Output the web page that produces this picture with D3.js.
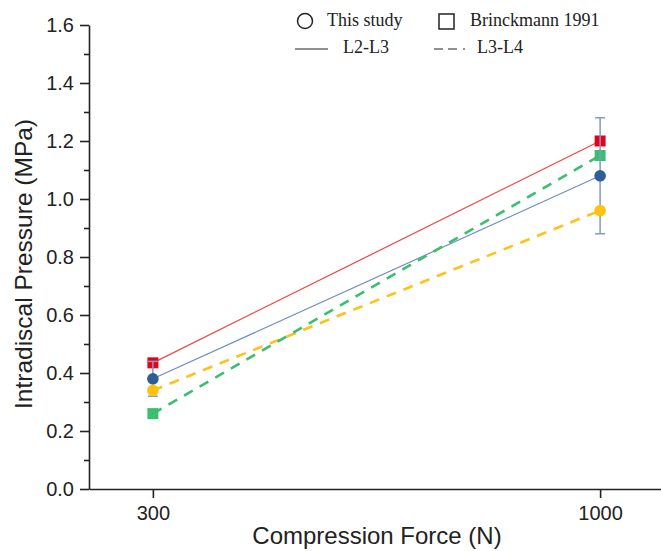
<!DOCTYPE html>
<html>
<head>
<meta charset="utf-8">
<script src="https://cdn.jsdelivr.net/npm/d3@7"></script>
<style>
  body { margin: 0; background: #fff; }
  svg { display: block; }
</style>
</head>
<body>
<div id="chart"></div>
<script>
const forces = [300, 1000];
const l23Study = [0.38, 1.08];
const l23StudyErr = [0.06, 0.2];
const l23Brinck = [0.435, 1.2];
const l34Study = [0.34, 0.96];
const l34Brinck = [0.26, 1.15];
const yTicks = [0, 0.2, 0.4, 0.6, 0.8, 1.0, 1.2, 1.4, 1.6];

const width = 661;
const height = 551;

const svg = d3.select('#chart')
              .append('svg')
              .attr('width', width)
              .attr('height', height);

const x = d3.scaleLinear().domain([200, 1100]).range([89, 664]);
const y = d3.scaleLinear().domain([0, 1.6]).range([489, 25]);

const sans = 'Liberation Sans, Arial, sans-serif';
const serif = 'Liberation Serif, Times New Roman, serif';

// axes
const yAxis = svg.append('g')
                 .attr('transform', 'translate(' + x(200) + ',0)')
                 .call(d3.axisLeft(y).tickValues(yTicks).tickFormat(d3.format('.1f')).tickSize(9).tickSizeOuter(0));
const yMinor = svg.append('g')
                  .attr('transform', 'translate(' + x(200) + ',0)')
                  .call(d3.axisLeft(y).tickValues(d3.range(0.1, 1.6, 0.2)).tickFormat('').tickSize(5).tickSizeOuter(0));
yMinor.select('.domain').remove();

const xAxis = svg.append('g')
                 .attr('transform', 'translate(0,' + y(0) + ')')
                 .call(d3.axisBottom(x).tickValues(forces).tickFormat(d3.format('d')).tickSize(9).tickSizeOuter(0));

[yAxis, yMinor, xAxis].forEach((g) => {
  g.selectAll('.domain').attr('stroke', '#222').attr('stroke-width', 1.6);
  g.selectAll('.tick line').attr('stroke', '#222').attr('stroke-width', 1.6);
  g.selectAll('text').attr('fill', '#222').style('font-family', sans).style('font-size', '20px');
});
yAxis.selectAll('text').attr('x', -15);
xAxis.selectAll('text').attr('y', 17);

svg.append('text')
   .attr('transform', 'translate(32,264) rotate(-90)')
   .attr('text-anchor', 'middle')
   .style('font-family', sans)
   .style('font-size', '24.5px')
   .attr('fill', '#222')
   .text('Intradiscal Pressure (MPa)');

svg.append('text')
   .attr('x', 377)
   .attr('y', 544)
   .attr('text-anchor', 'middle')
   .style('font-family', sans)
   .style('font-size', '24px')
   .attr('fill', '#222')
   .text('Compression Force (N)');

// lines
const series = [
  { vals: l23Brinck, line: '#f2433f', dash: null, w: 1.2 },
  { vals: l23Study, line: '#6f90c0', dash: null, w: 1.2 },
  { vals: l34Study, line: '#ffc21a', dash: '10,8', w: 2.6 },
  { vals: l34Brinck, line: '#3dbe6e', dash: '10,8', w: 2.6 }
];

const lineGen = d3.line().x((d, i) => x(forces[i])).y((d) => y(d));

series.forEach((s) => {
  svg.append('path')
     .datum(s.vals)
     .attr('d', lineGen)
     .attr('fill', 'none')
     .attr('stroke', s.line)
     .attr('stroke-width', s.w)
     .attr('stroke-dasharray', s.dash);
});

// squares
const sq = 11;
[[l23Brinck, '#e5001b'], [l34Brinck, '#3dbe6e']].forEach(([vals, color]) => {
  svg.selectAll(null)
     .data(vals)
     .enter()
     .append('rect')
     .attr('x', (d, i) => x(forces[i]) - sq / 2)
     .attr('y', (d) => y(d) - sq / 2)
     .attr('width', sq)
     .attr('height', sq)
     .attr('fill', color);
});

// error bars
const err = svg.selectAll('.err')
               .data(l23Study)
               .enter()
               .append('g')
               .attr('class', 'err')
               .attr('stroke', '#7f9cc2')
               .attr('stroke-width', 1.5);
err.append('line')
   .attr('x1', (d, i) => x(forces[i]))
   .attr('x2', (d, i) => x(forces[i]))
   .attr('y1', (d, i) => y(d + l23StudyErr[i]))
   .attr('y2', (d, i) => y(d - l23StudyErr[i]));
[1, -1].forEach((sgn) => {
  err.append('line')
     .attr('x1', (d, i) => x(forces[i]) - 5)
     .attr('x2', (d, i) => x(forces[i]) + 5)
     .attr('y1', (d, i) => y(d + sgn * l23StudyErr[i]))
     .attr('y2', (d, i) => y(d + sgn * l23StudyErr[i]));
});

// circles
[[l23Study, '#2f5e97'], [l34Study, '#ffc20e']].forEach(([vals, color]) => {
  svg.selectAll(null)
     .data(vals)
     .enter()
     .append('circle')
     .attr('cx', (d, i) => x(forces[i]))
     .attr('cy', (d) => y(d))
     .attr('r', 5.8)
     .attr('fill', color);
});

// legend
const legend = svg.append('g').style('font-family', serif).style('font-size', '18px').attr('fill', '#222');
legend.append('circle').attr('cx', 305).attr('cy', 21).attr('r', 7.5)
      .attr('fill', 'none').attr('stroke', '#222').attr('stroke-width', 1.5);
legend.append('text').attr('x', 327).attr('y', 26).text('This study');
legend.append('rect').attr('x', 439).attr('y', 14).attr('width', 15).attr('height', 15)
      .attr('fill', 'none').attr('stroke', '#222').attr('stroke-width', 1.5);
legend.append('text').attr('x', 470).attr('y', 26).text('Brinckmann 1991');
legend.append('line').attr('x1', 295).attr('x2', 328).attr('y1', 49).attr('y2', 49)
      .attr('stroke', '#222').attr('stroke-width', 1.2);
legend.append('text').attr('x', 343).attr('y', 53).text('L2-L3');
legend.append('line').attr('x1', 434).attr('x2', 466).attr('y1', 49).attr('y2', 49)
      .attr('stroke', '#222').attr('stroke-width', 1.2).attr('stroke-dasharray', '9,5,9,6,2,20');
legend.append('text').attr('x', 477).attr('y', 53).text('L3-L4');
</script>
</body>
</html>
